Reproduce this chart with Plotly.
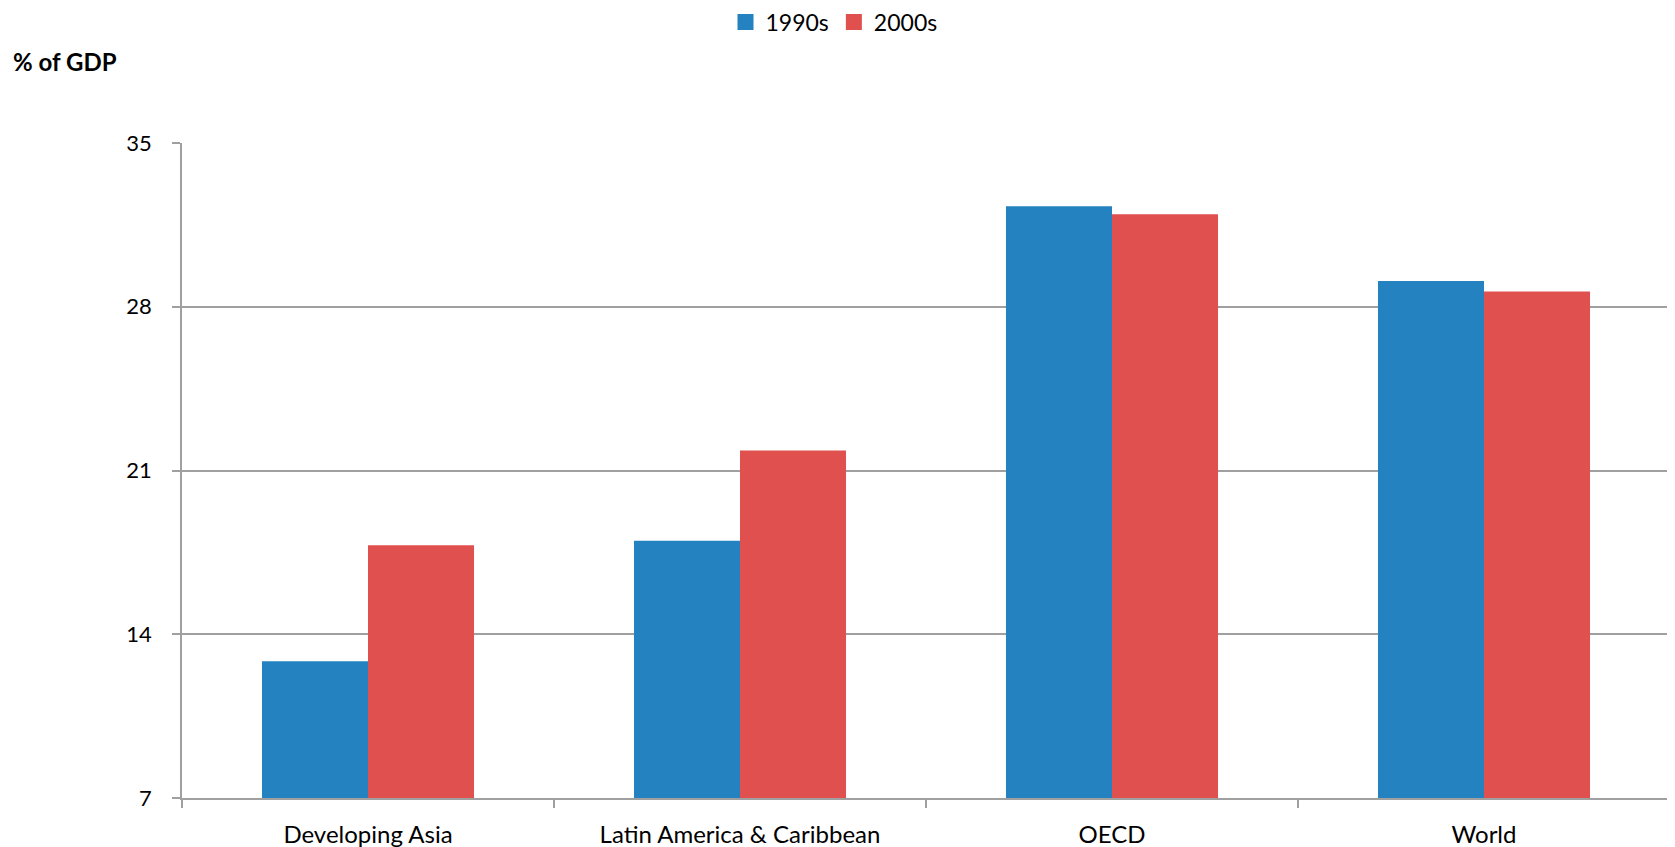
import plotly.graph_objects as go

categories = ["Developing Asia", "Latin America & Caribbean", "OECD", "World"]
series_names = ["1990s", "2000s"]
values_1990s = [12.85, 18.0, 32.3, 29.1]
values_2000s = [17.8, 21.85, 31.95, 28.65]
y_ticks = [7, 14, 21, 28, 35]
colors = ["#2582c0", "#df504e"]

FONT = "Lato"
W, H = 1667, 839
L, R, T, B = 174, 5, 135, 49
PW, PH = W - L - R, H - T - B

fig = go.Figure()
for name, vals, col in zip(series_names, [values_1990s, values_2000s], colors):
    fig.add_trace(go.Bar(x=categories, y=vals, name=name, showlegend=False,
                         marker=dict(color=col, line=dict(width=0))))
# legend entries with square swatches
for name, col in zip(series_names, colors):
    fig.add_trace(go.Scatter(x=[None], y=[None], mode="markers", name=name,
                             marker=dict(symbol="square", size=16, color=col)))

fig.update_layout(
    width=W, height=H,
    margin=dict(l=L, r=R, t=T, b=B, autoexpand=False),
    paper_bgcolor="white", plot_bgcolor="white",
    barmode="group", bargap=0.43, bargroupgap=0,
    font=dict(family=FONT, size=23, color="black"),
    showlegend=True,
    legend=dict(orientation="h", x=(826 - L) / PW, xanchor="center", yref="paper", y=1 + (T - 14) / PH,
                yanchor="middle", font=dict(size=23), itemwidth=30, tracegroupgap=0,
                bgcolor="rgba(0,0,0,0)"),
    annotations=[dict(text="<b>% of GDP</b>", xref="paper", yref="paper", x=(3 - L) / PW, y=1 + 82 / PH,
                      xanchor="left", yanchor="middle", showarrow=False, font=dict(size=24, family=FONT))],
)
fig.update_xaxes(showline=True, linecolor="#a0a0a0", linewidth=1.5, ticks="outside", tickson="boundaries",
                 ticklen=8, tickcolor="#a0a0a0", tickwidth=1.5, showgrid=False,
                 tickfont=dict(size=24, family=FONT), ticklabelstandoff=14)
fig.update_yaxes(range=[7, 35], tickvals=y_ticks, showline=True, linecolor="#a0a0a0", linewidth=1.5,
                 ticks="outside", ticklen=8, tickcolor="#a0a0a0", tickwidth=1.5,
                 showgrid=True, gridcolor="#a0a0a0", gridwidth=1.5, zeroline=False,
                 tickfont=dict(size=22, family=FONT), ticklabelstandoff=16)

fig.write_html("out.html")
